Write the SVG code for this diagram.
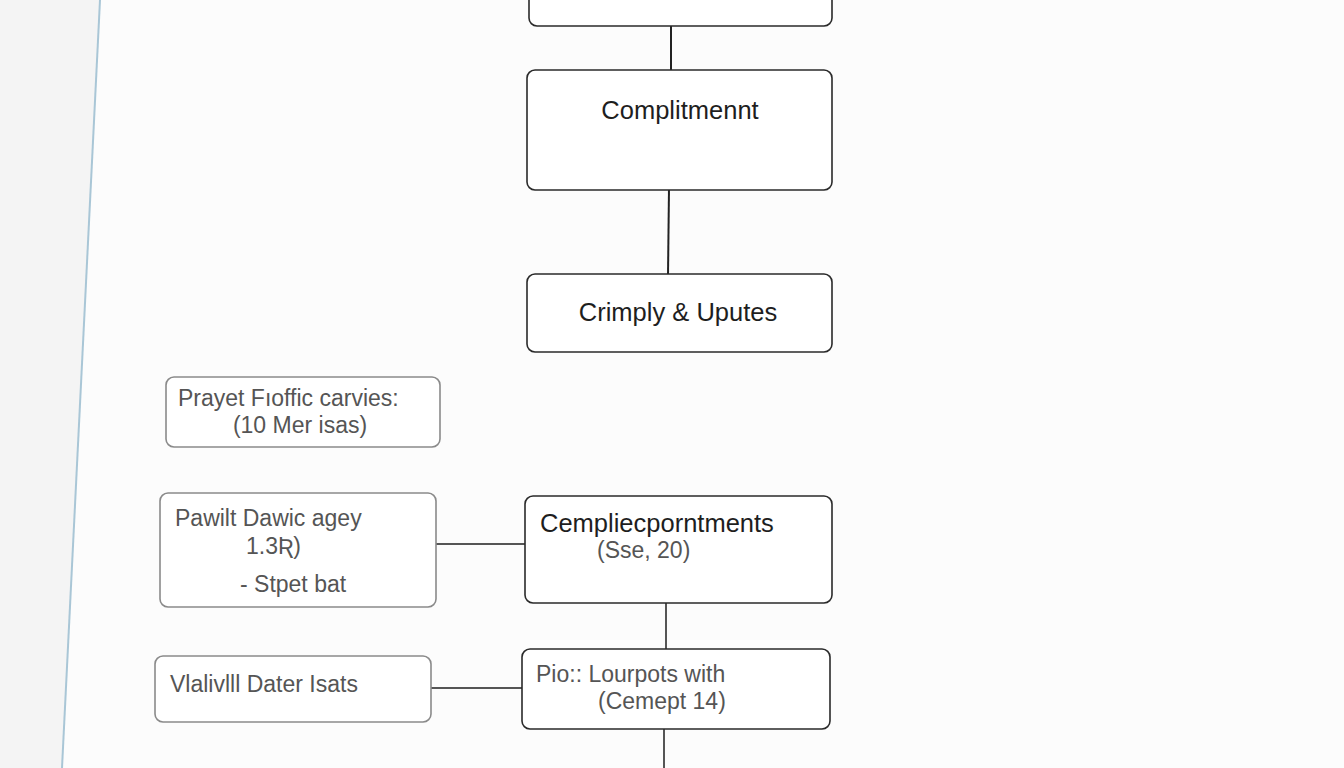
<svg xmlns="http://www.w3.org/2000/svg" width="1344" height="768" viewBox="0 0 1344 768">
<style>
.n{fill:#fff;stroke:#2a2a2a;stroke-width:1.6}
.g{fill:#fff;stroke:#8a8a8a;stroke-width:1.6}
.t{font-family:"Liberation Sans",Arial,sans-serif;font-size:25.5px;fill:#1e1e1e}
.s{font-family:"Liberation Sans",Arial,sans-serif;font-size:23px;fill:#555}
.c{stroke:#222;stroke-width:2;fill:none}
.cg{stroke:#555;stroke-width:2;fill:none}
</style>
<rect width="1344" height="768" fill="#fcfcfc"/>
<polygon points="0,0 100,0 62,768 0,768" fill="#f4f4f4"/>
<line x1="100" y1="0" x2="62" y2="768" stroke="#a9c6d6" stroke-width="2"/>
<g id="connectors">
<line class="c" x1="671" y1="24" x2="671" y2="72"/>
<line class="c" x1="669" y1="188" x2="668" y2="276"/>
<line class="cg" x1="436" y1="544" x2="526" y2="544"/>
<line class="cg" x1="666" y1="602" x2="666" y2="651"/>
<line class="cg" x1="431" y1="688" x2="523" y2="688"/>
<line class="cg" x1="664" y1="727" x2="664" y2="768"/>
</g>
<g id="n0"><rect class="n" x="529" y="-20" width="303" height="46" rx="8"/></g>
<g id="n1"><rect class="n" x="527" y="70" width="305" height="120" rx="8"/><text class="t" x="680" y="119" text-anchor="middle">Complitmennt</text></g>
<g id="n2"><rect class="n" x="527" y="274" width="305" height="78" rx="8"/><text class="t" x="678" y="321" text-anchor="middle">Crimply &amp; Uputes</text></g>
<g id="n3"><rect class="g" x="166" y="377" width="274" height="70" rx="8"/><text class="s" x="178" y="406">Prayet Fıoffic carvies:</text><text class="s" x="300" y="433" text-anchor="middle">(10 Mer isas)</text></g>
<g id="n4"><rect class="g" x="160" y="493" width="276" height="114" rx="8"/><text class="s" x="175" y="526">Pawilt Dawic agey</text><text class="s" x="246" y="554">1.3Ʀ)</text><text class="s" x="240" y="592">- Stpet bat</text></g>
<g id="n5"><rect class="n" x="525" y="496" width="307" height="107" rx="8"/><text class="t" x="540" y="532">Cempliecporntments</text><text class="s" x="597" y="558">(Sse, 20)</text></g>
<g id="n6"><rect class="g" x="155" y="656" width="276" height="66" rx="8"/><text class="s" x="170" y="692">Vlalivlll Dater Isats</text></g>
<g id="n7"><rect class="n" x="522" y="649" width="308" height="80" rx="8"/><text class="s" x="536" y="682">Pio:: Lourpots with</text><text class="s" x="598" y="709">(Cemept 14)</text></g>
</svg>
